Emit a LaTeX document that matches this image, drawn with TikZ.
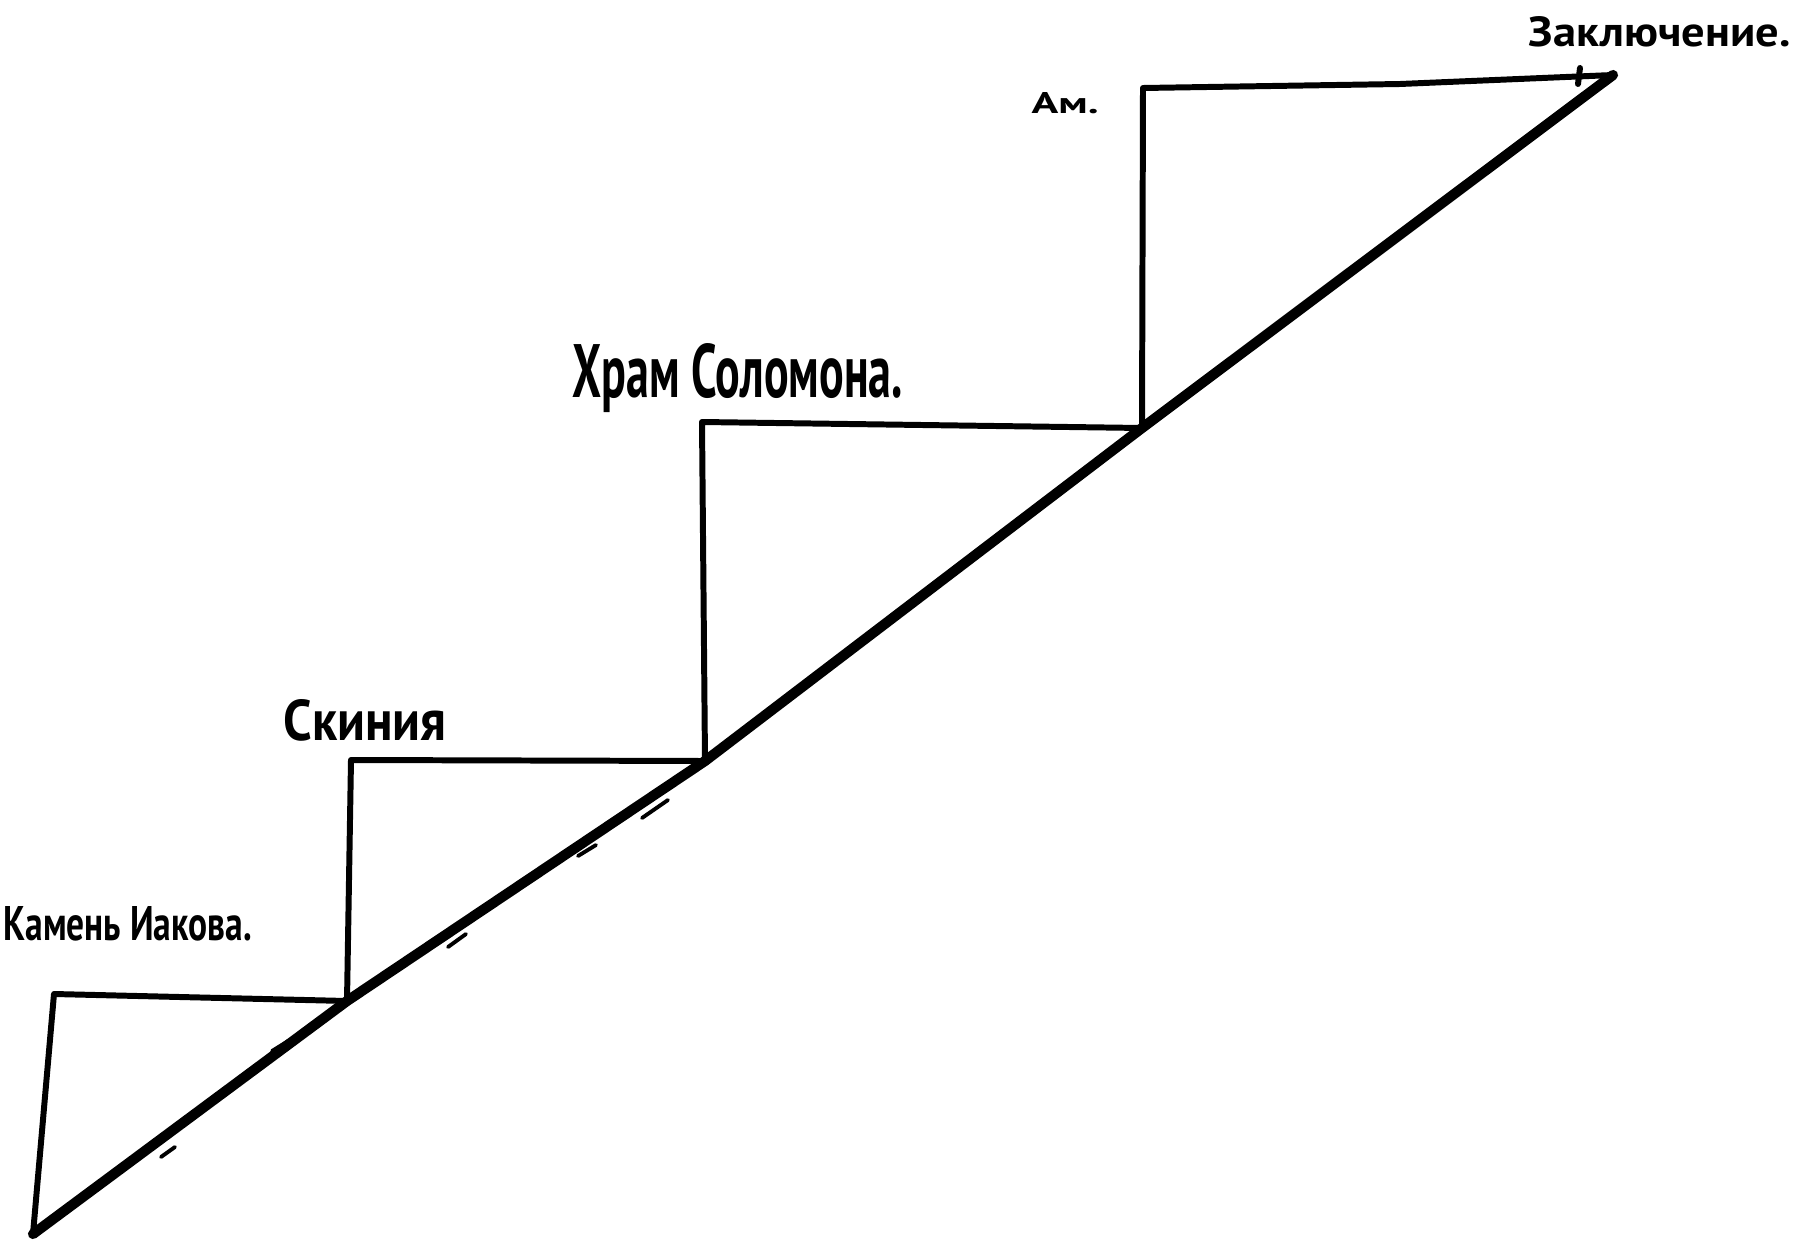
\documentclass[tikz,border=0pt]{standalone}
\usepackage{fontspec}
\setmainfont{PT Sans}
\begin{document}
\begin{tikzpicture}[x=0.1mm,y=-0.1mm,
  stepline/.style={line width=1.7pt, line join=round, line cap=round},
  slope/.style={line width=2.9pt, line join=round, line cap=round},
  stray/.style={line width=1.1pt, line cap=round},
  lbl/.style={anchor=base west, inner sep=0pt, font=\bfseries}]
\useasboundingbox[fill=white] (0,0) rectangle (1793,1243);
% corner points
\coordinate (b0) at (33,1234);
\coordinate (c1) at (54,994);
\coordinate (d1) at (347,1001);
\coordinate (c2) at (351,760);
\coordinate (d2) at (705,761);
\coordinate (c3) at (702,422);
\coordinate (d3) at (1142,428);
\coordinate (c4) at (1143,88);
\coordinate (top) at (1613,75);
\coordinate (t1) at (1578,84);
\coordinate (t2) at (1580,68);
% steps
\draw[stepline] (b0) -- (c1) -- (d1);
\draw[stepline] (d1) -- (c2) -- (d2);
\draw[stepline] (d2) -- (c3) -- (d3);
\draw[stepline] (d3) -- (c4) -- (1400,84) -- (top);
\draw[stepline] (t1) -- (t2);
% slope
\draw[slope] (b0) -- (d1) -- (d2) -- (d3) -- (top);
% stray strokes beside the slope
\draw[stray] (272,1051) -- (306,1030);
\draw[stray] (161,1157) -- (175,1147);
\draw[stray] (578,856) -- (596,845);
\draw[stray] (642,818) -- (668,800);
\draw[stray] (448,947) -- (466,934);
% labels
\node[lbl] (kamen) at (3,940) {\resizebox{24.8mm}{3.4mm}{Камень Иакова.}};
\node[lbl] (skin) at (283,740) {\resizebox{16.3mm}{4.1mm}{Скиния}};
\node[lbl] (hram) at (572,397) {\resizebox{33.0mm}{5.4mm}{Храм Соломона.}};
\node[lbl] (am) at (1031,113) {\resizebox{6.7mm}{2.1mm}{Ам.}};
\node[lbl] (zakl) at (1528,47) {\resizebox{26.2mm}{3.0mm}{Заключение.}};
\end{tikzpicture}
\end{document}
